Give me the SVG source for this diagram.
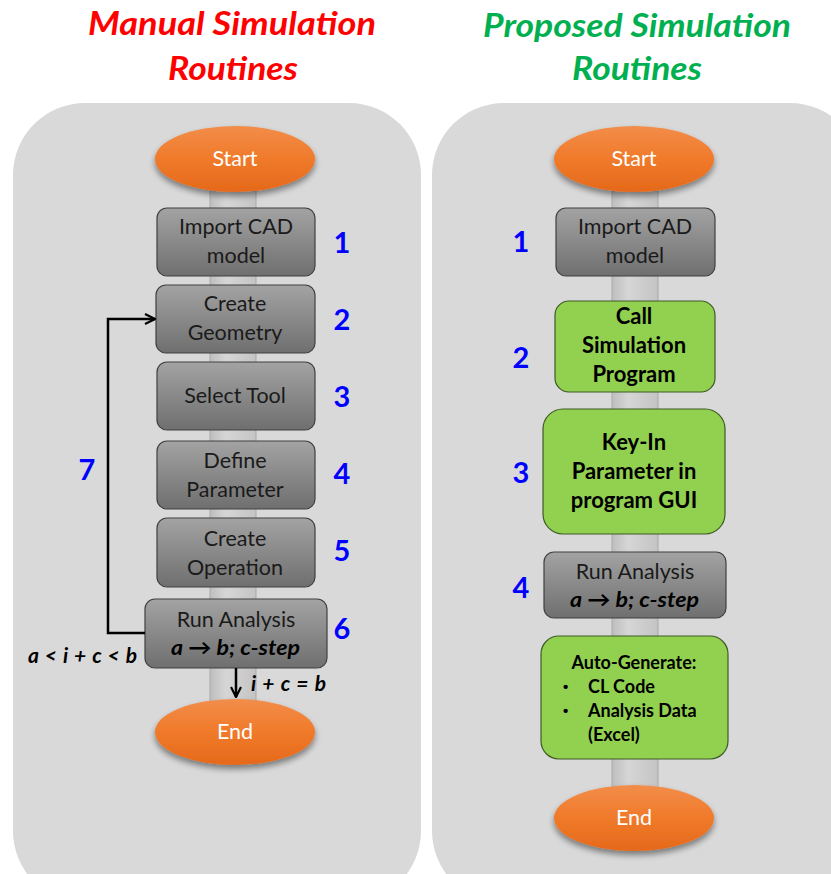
<svg xmlns="http://www.w3.org/2000/svg" width="831" height="874" viewBox="0 0 831 874">
  <defs>
    <linearGradient id="gOrange" x1="0" y1="0" x2="0" y2="1">
      <stop offset="0" stop-color="#F28D4A"/>
      <stop offset="0.5" stop-color="#F07A2A"/>
      <stop offset="1" stop-color="#E5691B"/>
    </linearGradient>
    <linearGradient id="gGray" x1="0" y1="0" x2="0" y2="1">
      <stop offset="0" stop-color="#A3A3A3"/>
      <stop offset="1" stop-color="#6F6F6F"/>
    </linearGradient>
    <linearGradient id="gPipe" x1="0" y1="0" x2="1" y2="0">
      <stop offset="0" stop-color="#BEBEBE"/>
      <stop offset="0.35" stop-color="#D6D6D6"/>
      <stop offset="1" stop-color="#C4C4C4"/>
    </linearGradient>
    <filter id="shadow" x="-20%" y="-20%" width="140%" height="160%">
      <feGaussianBlur in="SourceAlpha" stdDeviation="3"/>
      <feOffset dx="0" dy="4" result="b"/>
      <feComponentTransfer><feFuncA type="linear" slope="0.45"/></feComponentTransfer>
      <feMerge><feMergeNode/><feMergeNode in="SourceGraphic"/></feMerge>
    </filter>
    <marker id="arrowOpen" viewBox="0 0 12 12" refX="11" refY="6" markerWidth="12" markerHeight="12" markerUnits="userSpaceOnUse" orient="auto">
      <path d="M1,1 L11,6 L1,11" fill="none" stroke="#000" stroke-width="2.2"/>
    </marker>
  </defs>
  <style>
    .panel { fill: #D9D9D9; }
    .pipe { fill: url(#gPipe); stroke: #A9A9A9; stroke-width: 1; }
    .term { fill: url(#gOrange); filter: url(#shadow); }
    .termText { font-family: Lato, "Open Sans", sans-serif; font-size: 21.5px; fill: #FFFFFF; text-anchor: middle; }
    .step { fill: url(#gGray); stroke: #404040; stroke-width: 1.2; }
    .green { fill: #92D050; stroke: #3E5B26; stroke-width: 1.2; }
    .lbl { font-family: Lato, "Open Sans", sans-serif; font-size: 21.5px; fill: #1A1A1A; text-anchor: middle; }
    .lblB { font-family: Lato, "Open Sans", sans-serif; font-size: 22px; font-weight: bold; fill: #000; text-anchor: middle; }
    .lblS { font-family: Lato, "Open Sans", sans-serif; font-size: 18px; font-weight: bold; fill: #000; }
    .bullet { font-family: "Liberation Sans", sans-serif; font-size: 15px; font-weight: bold; fill: #000; }
    .math { font-family: Lato, "Open Sans", sans-serif; font-size: 21px; font-weight: bold; font-style: italic; fill: #000; }
    .num { font-family: Lato, "Open Sans", sans-serif; font-size: 29px; font-weight: bold; fill: #0000FF; text-anchor: middle; }
    .title { font-family: Lato, "Open Sans", sans-serif; font-size: 33px; font-weight: bold; font-style: italic; text-anchor: middle; }
    .wire { fill: none; stroke: #000; stroke-width: 2.5; }
  </style>

  <!-- titles -->
  <g id="titles">
    <text class="title" x="232" y="35" fill="#FF0000" textLength="288" lengthAdjust="spacingAndGlyphs">Manual Simulation</text>
    <text class="title" x="233" y="80" fill="#FF0000" textLength="130" lengthAdjust="spacingAndGlyphs">Routines</text>
    <text class="title" x="637" y="37" fill="#00B050" textLength="308" lengthAdjust="spacingAndGlyphs">Proposed Simulation</text>
    <text class="title" x="637" y="80" fill="#00B050" textLength="130" lengthAdjust="spacingAndGlyphs">Routines</text>
  </g>

  <!-- background panels -->
  <rect class="panel" x="13" y="103" width="408" height="800" rx="72"/>
  <rect class="panel" x="432" y="103" width="430" height="800" rx="72"/>

  <!-- flow pipes -->
  <rect class="pipe" x="210" y="180" width="46" height="530"/>
  <rect class="pipe" x="612" y="180" width="46" height="620"/>

  <!-- ===== manual routine ===== -->
  <g id="m-start">
    <ellipse class="term" cx="235" cy="159" rx="80" ry="33"/>
    <text class="termText" x="235" y="166">Start</text>
  </g>
  <g id="m-import">
    <rect class="step" x="157" y="208" width="158" height="68" rx="10"/>
    <text class="lbl" x="236" y="234">Import CAD</text>
    <text class="lbl" x="236" y="263">model</text>
    <text class="num" x="342" y="253">1</text>
  </g>
  <g id="m-geometry">
    <rect class="step" x="156" y="285" width="159" height="68" rx="10"/>
    <text class="lbl" x="235" y="311">Create</text>
    <text class="lbl" x="235" y="340">Geometry</text>
    <text class="num" x="342" y="330">2</text>
  </g>
  <g id="m-tool">
    <rect class="step" x="157" y="362" width="158" height="68" rx="10"/>
    <text class="lbl" x="235" y="403">Select Tool</text>
    <text class="num" x="342" y="407">3</text>
  </g>
  <g id="m-param">
    <rect class="step" x="157" y="441" width="158" height="68" rx="10"/>
    <text class="lbl" x="235" y="468">Define</text>
    <text class="lbl" x="235" y="497">Parameter</text>
    <text class="num" x="342" y="484">4</text>
  </g>
  <g id="m-operation">
    <rect class="step" x="157" y="518" width="158" height="69" rx="10"/>
    <text class="lbl" x="235" y="546">Create</text>
    <text class="lbl" x="235" y="575">Operation</text>
    <text class="num" x="342" y="561">5</text>
  </g>
  <g id="m-run">
    <rect class="step" x="145" y="599" width="182" height="69" rx="10"/>
    <text class="lbl" x="236" y="627">Run Analysis</text>
    <text class="math" x="171" y="655" textLength="129" lengthAdjust="spacingAndGlyphs">a → b; c-step</text>
    <text class="num" x="342" y="639">6</text>
  </g>
  <g id="m-end">
    <ellipse class="term" cx="235" cy="732" rx="80" ry="33"/>
    <text class="termText" x="235" y="739">End</text>
  </g>

  <!-- connectors of the manual routine -->
  <g id="connectors">
    <path class="wire" d="M145,633 H108 V319 H155" marker-end="url(#arrowOpen)"/>
    <path class="wire" d="M236,668 V697" marker-end="url(#arrowOpen)"/>
    <text class="num" x="87" y="480">7</text>
    <text class="math" x="28" y="663" textLength="109" lengthAdjust="spacing">a &lt; i + c &lt; b</text>
    <text class="math" x="251" y="691" textLength="75" lengthAdjust="spacing">i + c = b</text>
  </g>

  <!-- ===== proposed routine ===== -->
  <g id="p-start">
    <ellipse class="term" cx="634" cy="159" rx="80" ry="33"/>
    <text class="termText" x="634" y="166">Start</text>
  </g>
  <g id="p-import">
    <rect class="step" x="556" y="208" width="159" height="68" rx="10"/>
    <text class="lbl" x="635" y="234">Import CAD</text>
    <text class="lbl" x="635" y="263">model</text>
    <text class="num" x="521" y="252">1</text>
  </g>
  <g id="p-call">
    <rect class="green" x="555" y="301" width="160" height="91" rx="14"/>
    <text class="lblB" x="634" y="324">Call</text>
    <text class="lblB" x="634" y="353">Simulation</text>
    <text class="lblB" x="634" y="382">Program</text>
    <text class="num" x="521" y="368">2</text>
  </g>
  <g id="p-keyin">
    <rect class="green" x="543" y="409" width="182" height="125" rx="20"/>
    <text class="lblB" x="634" y="450">Key-In</text>
    <text class="lblB" x="634" y="479">Parameter in</text>
    <text class="lblB" x="634" y="508">program  GUI</text>
    <text class="num" x="521" y="483">3</text>
  </g>
  <g id="p-run">
    <rect class="step" x="544" y="552" width="182" height="66" rx="10"/>
    <text class="lbl" x="635" y="579">Run Analysis</text>
    <text class="math" x="570" y="607" textLength="129" lengthAdjust="spacingAndGlyphs">a → b; c-step</text>
    <text class="num" x="521" y="598">4</text>
  </g>
  <g id="p-auto">
    <rect class="green" x="541" y="636" width="187" height="123" rx="18"/>
    <text class="lblS" x="634" y="669" text-anchor="middle">Auto-Generate:</text>
    <text class="bullet" x="563" y="692">•</text>
    <text class="lblS" x="588" y="693">CL Code</text>
    <text class="bullet" x="563" y="716">•</text>
    <text class="lblS" x="588" y="717">Analysis  Data</text>
    <text class="lblS" x="588" y="741">(Excel)</text>
  </g>
  <g id="p-end">
    <ellipse class="term" cx="634" cy="818" rx="80" ry="33"/>
    <text class="termText" x="634" y="825">End</text>
  </g>
</svg>
